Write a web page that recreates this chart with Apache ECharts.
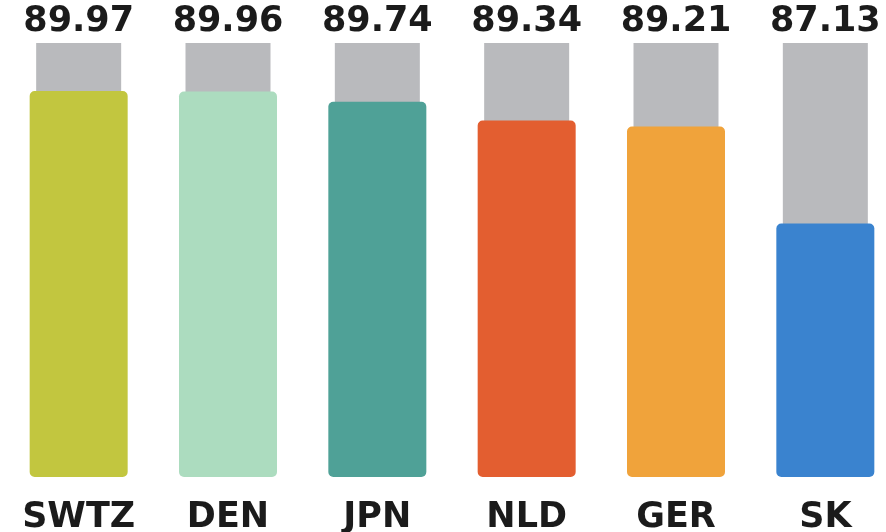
<!DOCTYPE html>
<html>
<head>
<meta charset="utf-8">
<script src="https://cdn.jsdelivr.net/npm/echarts@6/dist/echarts.min.js"></script>
<style>
html,body{margin:0;padding:0;background:#fff;}
#chart{width:886px;height:532px;}
</style>
</head>
<body>
<div id="chart"></div>
<script>
const categories = ['SWTZ', 'DEN', 'JPN', 'NLD', 'GER', 'SK'];
const values = [89.97, 89.96, 89.74, 89.34, 89.21, 87.13];
const barColors = ['#c2c63f', '#acdcbf', '#4fa197', '#e35e30', '#f0a33b', '#3a83cf'];
const axisMin = 81.7;
const axisMax = 91.0;
const trackValues = [91.0, 91.0, 91.0, 91.0, 91.0, 91.0];

const chart = echarts.init(document.getElementById('chart'), null, {renderer: 'canvas'});
const font = 'DejaVu Sans';
chart.setOption({
  animation: false,
  backgroundColor: '#ffffff',
  grid: {left: 4, right: -14, top: 43, bottom: 55, containLabel: false, outerBoundsMode: 'none'},
  xAxis: [
    {
      type: 'category', data: categories,
      axisLine: {show: false}, axisTick: {show: false},
      axisLabel: {
        color: '#1b1b1b', fontFamily: font, fontWeight: 'bold', fontSize: 35,
        margin: 23
      }
    },
    {
      type: 'category', data: categories, show: false
    }
  ],
  yAxis: {
    type: 'value', min: axisMin, max: axisMax, show: false,
    splitLine: {show: false}
  },
  series: [
    {
      type: 'bar', xAxisIndex: 1, data: trackValues, barWidth: 85,
      itemStyle: {color: '#b9babd'},
      label: {
        show: true, position: 'top', distance: 4,
        formatter: p => values[p.dataIndex].toFixed(2),
        color: '#1b1b1b', fontFamily: font, fontWeight: 'bold', fontSize: 35
      },
      z: 1
    },
    {
      type: 'bar', xAxisIndex: 0,
      data: values.map((v, i) => ({value: v, itemStyle: {color: barColors[i]}})),
      barWidth: 98,
      itemStyle: {borderRadius: 5},
      z: 2
    }
  ]
});
</script>
</body>
</html>
